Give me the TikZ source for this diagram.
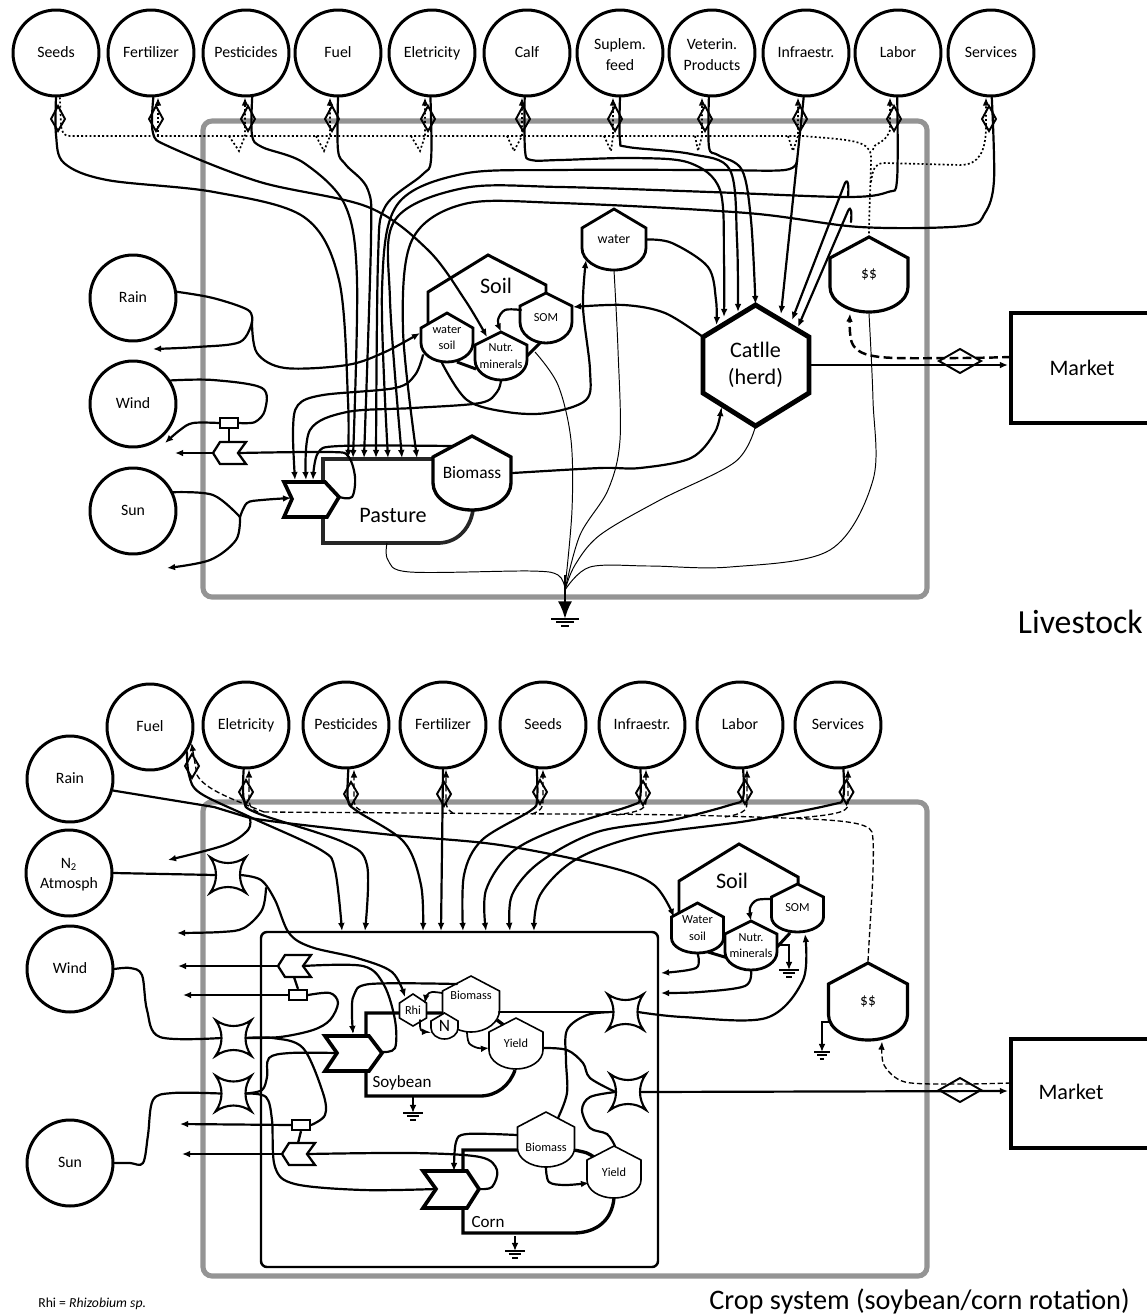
\documentclass[tikz,border=0pt]{standalone}
\usepackage{fontspec}
\setmainfont{Carlito}
\usetikzlibrary{arrows.meta,calc}

\newcommand{\fbig}{\fontsize{12.6}{15}\selectfont}
\newcommand{\fmid}{\fontsize{9.9}{12}\selectfont}
\newcommand{\fsmall}{\fontsize{7}{9.4}\selectfont}

\tikzset{
  srcnode/.style={circle,draw,line width=1.7pt,minimum size=1.72cm,inner sep=0pt,align=center,
    font=\fontsize{9}{11.5}\selectfont},
  frameline/.style={draw=black!42,line width=2.9pt,rounded corners=0.18cm},
  tankline/.style={draw,fill=white,line width=1.6pt,miter limit=8},
  tanktext/.style={inner sep=0pt,align=center},
  flow/.style={line width=1.25pt,smooth,tension=0.55,line cap=round},
  thinflow/.style={line width=0.55pt,smooth,tension=0.55},
  dotflow/.style={line width=0.95pt,dash pattern=on 1.1pt off 1.3pt},
  dashthin/.style={line width=0.75pt,dash pattern=on 3pt off 1.6pt},
  dashthick/.style={line width=1.4pt,dash pattern=on 5pt off 2.5pt,smooth,tension=0.55},
  tipflow/.style={-{Latex[length=4.6pt,width=3.8pt]}},
  dmdline/.style={line width=1.1pt},
  gateline/.style={draw,fill=white,line width=1.3pt},
  pumpline/.style={draw,fill=white,line width=2.1pt,miter limit=8},
  bodyline/.style={line width=1.9pt},
  gauge/.style={draw,fill=white,line width=1.3pt,minimum width=0.36cm,minimum height=0.2cm,inner sep=0pt},
  starline/.style={draw,fill=white,line width=1.2pt,miter limit=10},
}

% storage: name, x, half width, top, shoulder, side end, bottom, text
\newcommand{\tank}[9][]{%
  \draw[tankline,#1] ({#3-#4},#6) -- (#3,#5) -- ({#3+#4},#6) -- ({#3+#4},#7)
    .. controls ({#3+#4},{#7+0.55*(#8-#7)}) and ({#3+0.55*#4},#8) .. (#3,#8)
    .. controls ({#3-0.55*#4},#8) and ({#3-#4},{#7+0.55*(#8-#7)}) .. ({#3-#4},#7) -- cycle;
  \node[tanktext,#1,minimum width={2*#4*0.02cm},minimum height={(#8-#5)*0.02cm}] (#2) at (#3,{(#5+#8)/2}) {#9};
}
% interaction symbol
\newcommand{\xstar}[3]{%
  \draw[starline] ({#2-18},{#3-18}) .. controls ({#2-7},{#3-10}) and ({#2+7},{#3-10}) .. ({#2+18},{#3-18})
    .. controls ({#2+10},{#3-7}) and ({#2+10},{#3+7}) .. ({#2+18},{#3+18})
    .. controls ({#2+7},{#3+10}) and ({#2-7},{#3+10}) .. ({#2-18},{#3+18})
    .. controls ({#2-10},{#3+7}) and ({#2-10},{#3-7}) .. cycle;
  \coordinate (#1) at (#2,#3);
  \coordinate (#1W) at ({#2-12.5},#3);
  \coordinate (#1E) at ({#2+12.5},#3);
}
% flow gate
\newcommand{\gatesym}[3]{%
  \draw[gateline] ({#2-16},#3) -- ({#2-9},{#3-11}) -- ({#2+17},{#3-11}) -- ({#2+9},#3) -- ({#2+17},{#3+11}) -- ({#2-9},{#3+11}) -- cycle;
  \coordinate (#1W) at ({#2-16},#3);
  \coordinate (#1E) at ({#2+9},#3);
  \coordinate (#1N) at (#2,{#3-11});
}
% exit sink
\newcommand{\sinksym}[4]{%
  \coordinate (#1) at (#2,#3);
  \draw[line width=1.1pt] ({#2-#4},#3) -- ({#2+#4},#3);
  \draw[line width=1.1pt] ({#2-0.62*#4},{#3+3.4}) -- ({#2+0.62*#4},{#3+3.4});
  \draw[line width=1.1pt] ({#2-0.3*#4},{#3+6.6}) -- ({#2+0.3*#4},{#3+6.6});
}

\begin{document}
\begin{tikzpicture}[x=0.02cm,y=-0.02cm]
\useasboundingbox (0,0) rectangle (1147,1316);

% Frames
\draw[frameline] (203,121) rectangle (927,597);
\draw[frameline] (203,802) rectangle (927,1276);
\draw[line width=1.4pt,rounded corners=0.12cm] (261,932) rectangle (658,1267);

% ---- Livestock ----

% Sources
\foreach \nm/\x/\txt in {seedsL/56/Seeds,fertL/151/Fertilizer,pestL/246/Pesticides,fuelL/338/Fuel,
    elecL/432/Eletricity,calfL/527/Calf,feedL/620/{Suplem.\\feed},vetL/712/{Veterin.\\Products},
    infraL/806/Infraestr.,laborL/898/Labor,servL/991/Services} {
  \node[srcnode] (\nm) at (\x,53) {\strut\txt};
}
\node[srcnode] (rainL) at (133,298) {\strut Rain};
\node[srcnode] (windL) at (133,404) {\strut Wind};
\node[srcnode] (sunL) at (133,511) {\strut Sun};

% Market
\draw[bodyline] (1147,313) -- (1011,313) -- (1011,423) -- (1147,423);
\node[font=\fbig] (marketL) at (1082,368) {Market};
\coordinate (marketLa) at (1008,365);
\coordinate (marketLb) at (1011,357);

% Pasture
\draw[bodyline,line width=2.1pt,black!85] (433,459) -- (323,459) -- (323,543) -- (438,543) .. controls (456,543) and (470,530) .. (473,510);
\node[font=\fbig] (pasture) at (393,515) {Pasture};
\coordinate (pastureS) at (387,543);
\tank[line width=1.9pt,font=\fmid]{biomassL}{472}{39}{436}{457}{483}{510}{Biomass}
\coordinate (biomassLw) at (453,446);
\draw[pumpline] (284,482) -- (325,482) -- (339,497) -- (327,517) -- (284,517) -- (292,499) -- cycle;
\coordinate (pumpL) at (291,498);
\coordinate (pumpLtip) at (339,497);
\foreach \nm/\x in {pumpLa/295,pumpLb/306,pumpLc/313} {
  \coordinate (\nm) at (\x,480);
}

% Soil
\draw[tankline,line width=1.7pt] (428,340) -- (428,292) -- (488,255) -- (546,285) -- (546,300);
\node[font=\fbig] (soilL) at (496,286) {Soil};
\draw[line width=1.7pt] (457,362) -- (476,369);
\draw[line width=1.7pt] (540,343) -- (526,357);
\tank[font=\fsmall]{wsoilL}{447}{26}{313}{328}{343}{362}{water\\soil}
\tank[font=\fsmall]{nutrL}{501}{26}{332}{345}{360}{380}{Nutr.\\minerals}
\tank[font=\fsmall]{somL}{546}{26}{293}{306}{322}{343}{SOM}
\tank[font=\fontsize{7.9}{9}\selectfont]{waterL}{614}{32}{209}{228}{248}{270}{water}
\tank[line width=1.8pt,font=\fontsize{8.8}{10}\selectfont]{dollarL}{869}{39}{237}{258}{287}{312}{\$\$}
\coordinate (wsoilLa) at (420,333);
\coordinate (wsoilLb) at (423,355);
\coordinate (wsoilLc) at (442,363);
\coordinate (nutrLa) at (487,337);
\coordinate (somLa) at (521,310);
\coordinate (somLb) at (573,307);
\coordinate (somLc) at (535,352);
\coordinate (waterLa) at (586,260);

% Cattle
\draw[draw,fill=white,line width=2.8pt] (755.5,305) -- (809,337) -- (809,393) -- (755.5,426) -- (703,393) -- (703,337) -- cycle;
\node[font=\fbig,align=center] (cattle) at (755.5,365) {Catlle\\(herd)};
\coordinate (cattleNW) at (703,337);
\coordinate (cattleE) at (809,365);
\coordinate (cattleS) at (755.5,426);
\coordinate (cattleSW) at (721,408);

% Control gates
\gatesym{gateL}{229}{453}
\node[gauge] (gaugeL) at (229,423) {};
\draw[line width=1.3pt] (gaugeL.south) -- (gateLN);
\sinksym{sinkL}{565}{619}{14}

% Diamonds
\foreach \x in {58,156,248,332,428,523,615,705,800,894,989} {
  \draw[dmdline] ({\x-7},119) -- (\x,106) -- ({\x+7},119) -- (\x,131) -- cycle;
}
\draw[dmdline] (939,361) -- (960,349) -- (981,361) -- (960,373) -- cycle;

% Money lines
\draw[dotflow] (seedsL.-85) -- (61,125) .. controls (62,133) and (64,136) .. (70,136) -- (803,136)
  .. controls (850,140) and (868,140) .. (871,155) .. controls (871,180) and (869,210) .. (dollarL.north);
\draw[dotflow,tipflow] (158,136) -- (fertL.south -| 158,0);
\foreach \nm/\s/\d/\a in {pestL/229/239/245,fuelL/316/324/330,elecL/411/420/425,calfL/507/514/522,
    feedL/604/611/613,vetL/695/698/702,infraL/788/793/798} {
  \draw[dotflow,tipflow] (\s,136) -- (\d,151) -- (\a,136) -- (\nm.south -| \a,0);
}
\draw[dotflow,tipflow] (873,150) .. controls (873,142) and (885,145) .. (890,130) -- (laborL.south -| 890,0);
\draw[dotflow,tipflow] (871,182) .. controls (873,168) and (875,163) .. (885,163) -- (960,165)
  .. controls (980,165) and (985,150) .. (986,130) -- (servL.south -| 986,0);

% Inputs to the pasture
\foreach \nm/\x in {pasA/348,pasB/353,pasC/364,pasD/376,pasE/388,pasF/402,pasG/417} {
  \coordinate (\nm) at (\x,458);
}
\draw[flow,tipflow] plot coordinates {(seedsL.south) (56,135) (64,163) (107,180) (214,192) (304,217) (339,280) (348,400) (pasA)};
\draw[flow,tipflow] plot coordinates {(fertL.-87) (153,133) (170,147) (260,182) (368,207) (428,250) (465,300) (nutrLa)};
\draw[flow,tipflow] plot coordinates {(pestL.-82) (252,135) (262,147) (304,163) (345,205) (357,280) (pasB)};
\draw[flow,tipflow] plot coordinates {(fuelL.south) (338,150) (346,165) (368,190) (371,240) (pasC)};
\draw[flow,tipflow] plot coordinates {(elecL.-92) (431,160) (422,175) (385,207) (378,260) (pasD)};

% Inputs to the herd
\foreach \nm/\x/\y in {catA/716.5/325,catB/724/317,catC/738/312,catD/755.5/304,catE/781/314,catF/792/320,catG/798/327} {
  \coordinate (\nm) at (\x,\y);
}
\draw[flow,tipflow] plot coordinates {(calfL.-93) (525,150) (531,160) (560,160) (635,158) (690,163) (720,190) (724,260) (catB)};
\draw[flow,tipflow] plot coordinates {(feedL.south) (620,140) (628,147) (691,154) (730,170) (737,240) (catC)};
\draw[flow,tipflow] plot coordinates {(vetL.-94) (709,147) (718,155) (742,170) (751,220) (catD)};
\draw[flow,tipflow] (infraL.-93) -- (catE);

% Long runs across the frame
\coordinate (infraLb) at (797,160);
\coordinate (laborLb) at (848,197);
\coordinate (servLb) at (851,222);
\draw[flow,tipflow] plot coordinates {(infraLb) (785,170) (710,170) (560,170) (462,174) (397,205) (382,290) (pasE)};
\draw[flow,tipflow] plot coordinates {(laborL.-91) (897,180) (888,192) (846,197) (710,192) (560,187) (464,188) (395,220) (390,300) (pasF)};
\draw[flow,tipflow] plot coordinates {(servL.-89) (994,180) (985,213) (964,226) (860,227) (747,213) (560,203) (464,204) (412,240) (403,330) (pasG)};
\draw[flow,tipflow] (laborLb) .. controls (849,186) and (848,178) .. (845,183) -- (catF);
\draw[flow,tipflow] (servLb) .. controls (852,212) and (851,205) .. (848,211) -- (catG);

% Water and soil
\draw[flow,tipflow] plot coordinates {(waterL.east) (672,243) (708,267) (716,300) (catA)};
\draw[flow,tipflow] plot coordinates {(cattleNW) (665,313) (624,305) (somLb)};
\draw[flow,tipflow] plot coordinates {(wsoilLc) (467,400) (507,412) (547,413) (586,400) (590,370) (583,307) (waterLa)};
\draw[flow,tipflow] plot coordinates {(somLa) (505,310) (498,320) (nutrL.north)};
\draw[flow,tipflow] plot coordinates {(wsoilLb) (415,375) (395,388) (323,395) (298,405) (293,430) (pumpLa)};
\draw[flow,tipflow] plot coordinates {(nutrL.south) (497,392) (480,403) (413,408) (347,412) (310,430) (pumpLb)};
\draw[flow,tipflow] plot coordinates {(biomassLw) (340,446) (318,453) (pumpLc)};

% Pasture to herd
\draw[flow,tipflow] plot coordinates {(biomassL.east) (600,468) (640,468) (691,458) (715,432) (cattleSW)};

% Energy sources
\coordinate (rainCusp) at (252,322);
\draw[flow] plot coordinates {(rainL.8) (213,298) (248,310) (rainCusp)};
\coordinate (rainEnd) at (153,349);
\draw[flow,tipflow] plot coordinates {(rainCusp) (240,342) (197,347) (rainEnd)};
\draw[flow,tipflow] plot coordinates {(rainCusp) (257,353) (285,368) (347,365) (385,352) (wsoilLa)};
\coordinate (windEndA) at (165,443);
\coordinate (windEndB) at (175,453);
\draw[flow] plot coordinates {(windL.32) (213,380) (262,388) (265,410) (255,422) (gaugeL.east)};
\draw[flow,tipflow] plot coordinates {(gaugeL.west) (193,423) (180,430) (windEndA)};
\draw[flow,tipflow] (gateLW) -- (windEndB);
\draw[flow] plot coordinates {(pumpLtip) (352,497) (355,477) (348,456) (330,452) (gateLE)};
\coordinate (sunCusp) at (240,517);
\coordinate (sunEnd) at (167,568);
\draw[flow] plot coordinates {(sunL.25) (213,495) (sunCusp)};
\draw[flow,tipflow] plot coordinates {(sunCusp) (247,503) (262,500) (pumpL)};
\draw[flow,tipflow] plot coordinates {(sunCusp) (236,540) (210,560) (sunEnd)};

% Market lines
\draw[flow,tipflow] (cattleE) -- (marketLa);
\draw[dashthick,tipflow] plot coordinates {(marketLb) (960,358) (880,357) (853,345) (dollarL.south -| 850,0)};

% Losses
\draw[thinflow] plot coordinates {(pastureS) (388,560) (410,572) (530,571) (558,575) (565,588)};
\draw[thinflow] plot coordinates {(somLc) (558,385) (571,440) (572,510) (565,588)};
\draw[thinflow] plot coordinates {(waterL.south) (618,350) (620,440) (608,490) (580,535) (565,590)};
\draw[thinflow] plot coordinates {(cattleS) (735,462) (660,500) (600,535) (575,565) (565,590)};
\draw[thinflow] plot coordinates {(dollarL.south) (873,400) (873,480) (830,550) (730,567) (650,566) (590,567) (565,590)};
\draw[line width=1.5pt,-{Latex[length=10pt,width=8pt]}] (565,575) -- (sinkL);

% ---- Crop system ----

% Sources
\foreach \nm/\x/\y/\txt in {fuelC/150/727/Fuel,elecC/246/725/Eletricity,pestC/346/725/Pesticides,fertC/443/725/Fertilizer,
    seedsC/543/725/Seeds,infraC/642/725/Infraestr.,laborC/740/725/Labor,servC/838/725/Services,
    rainC/70/779/Rain,airC/69/873/{N\textsubscript{2}\\Atmosph},windC/70/969/Wind,sunC/70/1163/Sun} {
  \node[srcnode] (\nm) at (\x,\y) {\strut\txt};
}

% Market
\draw[bodyline] (1147,1039) -- (1011,1039) -- (1011,1148) -- (1147,1148);
\node[font=\fbig] (marketC) at (1071,1092) {Market};
\coordinate (marketCa) at (1008,1091);
\coordinate (marketCb) at (1011,1083);

% Soil
\draw[tankline,line width=1.7pt] (679,920) -- (679,881) -- (739,844) -- (798,877) -- (798,890);
\node[font=\fbig] (soilC) at (732,881) {Soil};
\draw[line width=1.7pt] (708,952) -- (728,958);
\draw[line width=1.7pt] (790,933) -- (777,947);
\tank[font=\fsmall]{wsoilC}{697.5}{26}{903}{917}{938}{953}{Water\\soil}
\tank[font=\fsmall]{nutrC}{751}{26}{921}{934}{952}{970}{Nutr.\\minerals}
\tank[font=\fsmall]{somC}{797.5}{26}{884}{897}{917}{932}{SOM}
\tank[line width=1.8pt,font=\fontsize{8.8}{10}\selectfont]{dollarC}{868}{39.5}{963}{984}{1015}{1040}{\$\$}
\sinksym{sinkA}{789}{970}{10}
\sinksym{sinkB}{822}{1052}{8}
\sinksym{sinkC}{413}{1113}{10}
\sinksym{sinkD}{515}{1251}{10}
\coordinate (wsoilCa) at (674,917);
\coordinate (somCa) at (772,899);
\coordinate (somCb) at (805,934);
\coordinate (nutrCa) at (777,945);
\coordinate (dollarCa) at (829,1022);
\coordinate (boxRa) at (661,973);
\coordinate (boxRb) at (661,993);

% Soybean
\draw[bodyline] (442,1013) -- (366,1013) -- (366,1096) -- (480,1096) .. controls (497,1096) and (510,1085) .. (515,1070);
\node[font=\fontsize{9.7}{12}\selectfont] (soybean) at (402,1083) {Soybean};
\draw[pumpline] (325,1036) -- (369,1036) -- (382,1053) -- (369,1071) -- (325,1071) -- (337,1053) -- cycle;
\coordinate (pumpS) at (337,1053);
\coordinate (pumpStip) at (382,1052);
\coordinate (pumpSa) at (353,1034);
\draw[line width=1.9pt] (497,1020) -- (505,1026);
\tank[line width=0.9pt,font=\fsmall]{biomassS}{471}{28.5}{976}{991}{1010}{1032}{\raisebox{0.1cm}[0pt][0pt]{Biomass}}
\tank[line width=0.9pt,font=\fsmall]{yieldS}{516}{27}{1018}{1032}{1050}{1069}{Yield}
\tank[line width=0.9pt,font=\fmid]{nodN}{444.5}{13.5}{1013}{1021}{1028}{1039}{N}
\draw[draw,fill=white,line width=0.9pt] (413,994) -- (426.5,1003) -- (426.5,1018) -- (413,1026) -- (399.5,1018) -- (399.5,1003) -- cycle;
\node[font=\fsmall] (rhi) at (413,1010) {Rhi};
\coordinate (rhiN) at (405,997);
\coordinate (rhiE) at (427,1013);
\coordinate (rhiNE) at (425,1003);
\coordinate (rhiSE) at (420,1020);
\coordinate (nodNw) at (430,1032);
\coordinate (biomassSa) at (457,984);
\coordinate (biomassSb) at (442,993);
\coordinate (biomassSc) at (442,1013);
\coordinate (biomassSd) at (467,1032);
\coordinate (biomassSe) at (499,1012);
\coordinate (yieldSa) at (489,1048);
\coordinate (yieldSb) at (543,1048);

% Corn
\draw[bodyline] (517,1150) -- (463,1150) -- (463,1233) -- (573,1233) .. controls (597,1233) and (612,1220) .. (614,1198);
\node[font=\fontsize{9.7}{12}\selectfont] (corn) at (488,1222) {Corn};
\draw[pumpline] (423,1171) -- (467,1171) -- (479,1189) -- (467,1208) -- (423,1208) -- (436,1189) -- cycle;
\coordinate (pumpC) at (436,1189);
\coordinate (pumpCtip) at (479,1189);
\coordinate (pumpCa) at (454,1171);
\draw[line width=1.9pt] plot[smooth] coordinates {(574,1150) (587,1153) (597,1159)};
\tank[line width=0.9pt,font=\fsmall]{biomassC}{546}{28.5}{1112}{1127}{1148}{1167}{\raisebox{-0.24cm}[0pt][0pt]{Biomass}}
\tank[line width=0.9pt,font=\fsmall]{yieldC}{614}{27}{1146}{1160}{1180}{1198}{Yield}
\coordinate (biomassCa) at (517,1135);
\coordinate (biomassCb) at (558,1118);
\coordinate (yieldCa) at (589,1183);
\coordinate (yieldCb) at (615,1146);

% Interactions and gates
\xstar{xa}{228}{875}
\xstar{xb}{233.5}{1038}
\xstar{xc}{233.5}{1093.5}
\xstar{xd}{625.5}{1012}
\xstar{xe}{628}{1092}
\gatesym{gateA}{294}{966}
\gatesym{gateB}{298}{1154}
\node[gauge] (gaugeA) at (298,995) {};
\node[gauge] (gaugeB) at (301,1125) {};
\draw[line width=1.3pt] (gaugeA.north) -- (gateAN |- 0,977);
\draw[line width=1.3pt] (gaugeB.south) -- (gateBN);

% Diamonds
\foreach \x/\y in {192/766,246/792,351/794,444/794,540/792,643/793,745/792,846.5/792} {
  \draw[dmdline] ({\x-7},\y) -- (\x,{\y-12}) -- ({\x+7},\y) -- (\x,{\y+12}) -- cycle;
}
\draw[dmdline] (939,1090) -- (960,1078) -- (981,1090) -- (960,1102) -- cycle;

% Money lines
\draw[dashthin] (dollarC.north) .. controls (870,920) and (876,850) .. (872,832) .. controls (868,822) and (840,820) .. (785,818)
  .. controls (700,815) and (640,814) .. (560,814) -- (264,812);
\draw[dashthin,tipflow] (264,812) .. controls (235,800) and (205,790) .. (197,775) -- (fuelC.-21);
\foreach \nm/\a/\x/\y in {elecC/249/258/812,pestC/354/368/813,fertC/446/453/813,seedsC/543/532/814,
    infraC/646/616/815,laborC/747/725/817,servC/848/796/818} {
  \draw[dashthin,tipflow] (\x,\y) .. controls (\a,{\y-4}) and (\a,{\y-8}) .. (\a,{\y-16}) -- (\nm.south -| \a,0);
}

% Inputs to the box
\foreach \nm/\x in {boxA/342,boxB/365,boxC/423,boxD/441,boxE/463,boxF/486,boxG/510,boxH/534} {
  \coordinate (\nm) at (\x,931);
}
\draw[flow,tipflow] plot coordinates {(fuelC.-34) (189,775) (200,793) (250,817) (321,850) (335,870) (boxA)};
\draw[flow,tipflow] plot coordinates {(elecC.-93) (244,800) (257,813) (343,842) (367,865) (boxB)};
\draw[flow,tipflow] plot coordinates {(pestC.-87) (348,800) (357,811) (404,842) (421,885) (boxC)};
\draw[flow,tipflow] (fertC.south) -- (boxD);
\draw[flow,tipflow] plot coordinates {(seedsC.-98) (537,800) (530,811) (482,840) (464,875) (boxE)};
\draw[flow,tipflow] plot coordinates {(infraC.-92) (640,798) (630,806) (560,828) (512,852) (486,890) (boxF)};
\draw[flow,tipflow] plot coordinates {(laborC.-86) (743,798) (730,805) (672,820) (597,832) (540,862) (512,895) (boxG)};
\draw[flow,tipflow] plot coordinates {(servC.-83) (843,798) (830,805) (747,821) (640,836) (575,860) (540,895) (boxH)};

% Rain
\coordinate (rainCuspC) at (250,818);
\coordinate (rainEndC) at (168,860);
\draw[flow] (rainC.-15) -- (214,807) -- (rainCuspC);
\draw[flow,tipflow] plot coordinates {(rainCuspC) (248,830) (225,845) (rainEndC)};
\draw[flow,tipflow] plot coordinates {(rainCuspC) (286,823) (393,835) (500,845) (609,867) (654,885) (wsoilCa)};

% Atmosphere and wind
\coordinate (airEnd) at (177,933);
\coordinate (xaB) at (266,888);
\draw[flow] (airC.east) -- (xaW);
\draw[flow,tipflow] plot coordinates {(xaE) (261,880) (275,900) (289,933) (311,947) (357,958) (392,972) (rhiN)};
\draw[flow,tipflow] plot coordinates {(xaB) (262,910) (244,928) (221,932) (airEnd)};
\draw[flow] plot coordinates {(windC.east) (130,968) (142,975) (147,1010) (160,1037) (xbW)};
\draw[flow] plot coordinates {(sunC.east) (130,1163) (143,1163) (148,1135) (153,1100) (173,1093) (xcW)};

% Gates and gauges
\coordinate (endGa) at (178,966);
\coordinate (endGb) at (183,995);
\coordinate (endGc) at (180,1124);
\coordinate (endGd) at (182,1154);
\draw[flow,tipflow] (gateAW) -- (endGa);
\draw[flow,tipflow] (gaugeA.west) -- (endGb);
\draw[flow,tipflow] (gaugeB.west) -- (endGc);
\draw[flow,tipflow] (gateBW) -- (endGd);
\draw[flow] plot coordinates {(gateAE) (363,966) (384,985) (395,1020) (395,1048) (pumpStip)};
\draw[flow] plot coordinates {(gaugeA.east) (330,993) (338,1003) (330,1020) (313,1030) (280,1037) (xbE)};
\draw[flow] plot coordinates {(xbE) (273,1038) (303,1048) (323,1093) (325,1115) (gaugeB.east)};
\draw[flow] plot coordinates {(xcE) (262,1090) (267,1077) (269,1058) (290,1053) (pumpS)};
\draw[flow] plot coordinates {(xcE) (266,1097) (272,1120) (275,1167) (295,1184) (363,1190) (pumpC)};
\draw[flow] plot coordinates {(gateBE) (413,1153) (480,1157) (497,1170) (492,1187) (pumpCtip)};

% Soybean inner lines
\draw[flow,tipflow] plot coordinates {(biomassSa) (370,984) (354,995) (352,1013) (pumpSa)};
\draw[line width=1.5pt] (rhiE) -- (biomassSc);
\draw[flow,tipflow,line width=1pt] plot coordinates {(biomassSb) (432,992) (427,995) (rhiNE)};
\draw[flow,tipflow,line width=1pt] plot coordinates {(rhiSE) (421,1030) (nodNw)};
\draw[flow,tipflow,line width=1pt] plot coordinates {(biomassSd) (469,1043) (478,1048) (yieldSa)};

% Corn inner lines
\draw[flow,tipflow] plot coordinates {(biomassCa) (467,1134) (456,1142) (pumpCa)};
\draw[flow,tipflow] plot coordinates {(biomassC.south) (549,1182) (565,1185) (yieldCa)};

% Harvest to markets
\draw[flow] (biomassSe) -- (xdW);
\draw[flow] plot coordinates {(xdW) (587,1015) (567,1030) (566,1060) (567,1093) (biomassCb)};
\draw[flow] plot coordinates {(yieldSb) (567,1050) (583,1063) (590,1078) (xeW)};
\draw[flow] plot coordinates {(xeW) (590,1097) (582,1110) (590,1128) (607,1134) (yieldCb)};
\draw[flow,tipflow] plot coordinates {(xdE) (683,1017) (766,1018) (803,980) (somCb)};
\draw[flow,tipflow] (xeE) -- (marketCa);
\draw[dashthin,tipflow] plot[smooth] coordinates {(marketCb) (960,1084) (905,1082) (884,1065) (dollarC.south -| 882,0)};

% Soil inner lines
\draw[flow,tipflow] plot coordinates {(somCa) (757,900) (750,908) (nutrC.north)};
\draw[flow,tipflow] plot coordinates {(wsoilC.south) (696,968) (boxRa)};
\draw[flow,tipflow] plot coordinates {(nutrC.south) (745,986) (700,992) (boxRb)};
\draw[tipflow,line width=0.9pt] (nutrCa) -- (789,945) -- (sinkA);

% Small sinks
\draw[tipflow,line width=0.9pt] (dollarCa) -- (822,1022) -- (sinkB);
\draw[tipflow,line width=0.9pt] (soybean.south -| 413,0) -- (sinkC);
\draw[tipflow,line width=0.9pt] (515,1236) -- (sinkD);

% Labels
\node[font=\fontsize{19.2}{22}\selectfont,anchor=east,inner sep=0pt] (titleL) at (1143,622) {Livestock};
\node[font=\fontsize{16.1}{20}\selectfont,anchor=east,inner sep=0pt] (titleC) at (1130,1301) {Crop system (soybean/corn rotation)};
\node[font=\fontsize{7.8}{9}\selectfont,anchor=west,inner sep=0pt] (noteRhi) at (38,1304) {Rhi = \textit{Rhizobium sp.}};

\end{tikzpicture}
\end{document}
